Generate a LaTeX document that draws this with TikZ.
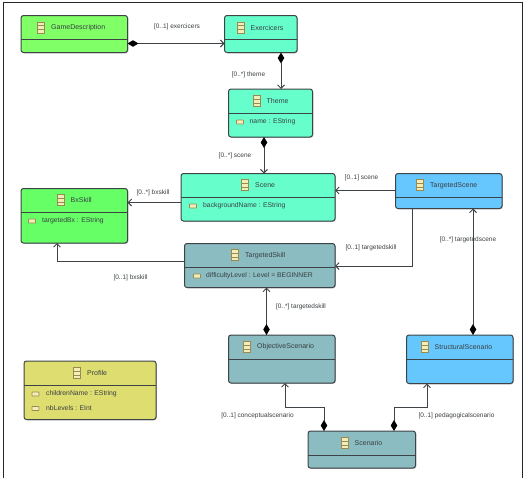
\documentclass[tikz,border=0pt]{standalone}
\usepackage{fontspec}
\setmainfont{Liberation Sans}
\usetikzlibrary{arrows.meta,shadows,calc}
\definecolor{lineC}{HTML}{3E4347}
\definecolor{txtC}{HTML}{3A3F42}
\definecolor{gameC}{HTML}{80FF66}
\definecolor{aquaC}{HTML}{66FFCC}
\definecolor{skyC}{HTML}{66C7FF}
\definecolor{tealC}{HTML}{8ABCC1}
\definecolor{greenC}{HTML}{66FF66}
\definecolor{yelC}{HTML}{DDDD70}
\definecolor{iconF}{HTML}{F3EDB8}
\definecolor{iconD}{HTML}{9A8A52}
\tikzset{
  classbox/.style={draw=lineC,line width=1pt,rounded corners=2.5pt,inner sep=0pt,outer sep=0pt,anchor=north west,
    drop shadow={shadow xshift=0.8pt,shadow yshift=-0.8pt,opacity=.25,fill=black}},
  divider/.style={draw=lineC,line width=1pt},
  titletext/.style={font=\fontsize{7pt}{8pt}\selectfont,text=txtC,anchor=west,inner sep=0pt},
  attrtext/.style={font=\fontsize{6.8pt}{8pt}\selectfont,text=txtC,anchor=west,inner sep=0pt},
  linktext/.style={font=\fontsize{6.5pt}{8pt}\selectfont,text=txtC,anchor=center,inner sep=0pt},
  frameline/.style={draw=black!85,line width=1pt},
  assoc/.style={draw=lineC,line width=1pt,-{Straight Barb[length=3.5pt,width=7pt,line width=.9pt]}},
  comp/.style={assoc,{Diamond[length=11pt,width=6.5pt,fill=black,color=black]}-{Straight Barb[length=3.5pt,width=7pt,line width=.9pt]}},
  x=1pt,y=-1pt
}
% icon of a class, centred at (#1,#2)
\newcommand{\classicon}[2]{%
  \draw[iconD,fill=iconF,line width=.7pt] (#1-3.5,#2-5.5) rectangle (#1+3.5,#2+5.5);
  \draw[iconD,line width=.6pt] (#1-3.5,#2-2) -- (#1+3.5,#2-2) (#1-3.5,#2+2) -- (#1+3.5,#2+2);
}
% icon of an attribute, centred at (#1,#2)
\newcommand{\attricon}[2]{%
  \draw[iconD,fill=iconF,line width=.7pt,rounded corners=.5pt] (#1-3.5,#2-2) rectangle (#1+3.5,#2+2);
}
% id, colour, x1, y1, x2, y2, divider y, title, title x
\newcommand{\umlclass}[9]{%
  \pgfmathsetmacro{\bw}{#5-#3}\pgfmathsetmacro{\bh}{#6-#4}\pgfmathsetmacro{\ty}{(#4+#7)/2}
  \node[classbox,fill=#2,minimum width=\bw pt,minimum height=\bh pt] (#1) at (#3,#4) {};
  \draw[divider] (#1.west |- 0,#7) -- (#1.east |- 0,#7);
  \pgfmathsetmacro{\ix}{#9-10}
  \classicon{\ix}{\ty}
  \node[titletext] (#1-title) at (#9,\ty) {#8};
}
\begin{document}
\begin{tikzpicture}
\useasboundingbox (0,0) rectangle (526,480);
\draw[frameline] (3.5,478) -- (3.5,2.5) -- (522.5,2.5) -- (522.5,478);

\umlclass{game}{gameC}{21}{15.5}{127.5}{52.5}{39.5}{GameDescription}{51}
\umlclass{exer}{aquaC}{224.5}{15.5}{297}{52.5}{39.5}{Exercicers}{250.5}
\umlclass{theme}{aquaC}{228.5}{89}{312.5}{137}{113}{Theme}{266.5}
\umlclass{scene}{aquaC}{181}{173.5}{335}{221}{197}{Scene}{255}
\umlclass{tscene}{skyC}{395.5}{173.5}{502}{208.5}{197}{TargetedScene}{430}
\umlclass{bx}{greenC}{21}{188.5}{127.5}{243}{212}{BxSkill}{70.5}
\umlclass{tskill}{tealC}{184.5}{243.5}{335}{287.5}{267}{TargetedSkill}{245}
\umlclass{obj}{tealC}{228.5}{335}{335}{383}{359}{ObjectiveScenario}{257}
\umlclass{struct}{skyC}{406.5}{335}{513}{383.5}{359}{StructuralScenario}{434.5}
\umlclass{scen}{tealC}{308}{431}{415.5}{468}{455}{Scenario}{354.5}
\umlclass{prof}{yelC}{24}{361}{156}{419.5}{385}{Profile}{87}

\attricon{240}{122}
\node[attrtext] (a1) at (249.5,122) {name : EString};
\attricon{193}{206}
\node[attrtext] (a2) at (203,206) {backgroundName : EString};
\attricon{32}{221}
\node[attrtext] (a3) at (42,221) {targetedBx : EString};
\attricon{197}{276}
\node[attrtext] (a4) at (206,276) {difficultyLevel : Level = BEGINNER};
\attricon{35.5}{394}
\node[attrtext] (a5) at (46,394) {childrenName : EString};
\attricon{35.5}{408.5}
\node[attrtext] (a6) at (46,408.5) {nbLevels : EInt};

\draw[comp] (game.east |- 0,43.5) -- (exer.west |- 0,43.5);
\draw[comp] (exer.south -| 281,0) -- (theme.north -| 281,0);
\draw[comp] (theme.south -| 264,0) -- (scene.north -| 264,0);
\draw[assoc] (scene.west |- 0,202.5) -- (bx.east |- 0,202.5);
\draw[assoc] (tscene.west |- 0,190.5) -- (scene.east |- 0,190.5);
\draw[assoc] (tskill.west |- 0,261.5) -| (bx.south -| 57,0);
\draw[assoc] (tscene.south -| 412,0) |- (tskill.east |- 0,266);
\draw[comp] (struct.north -| 473,0) -- (tscene.south -| 473,0);
\draw[comp] (obj.north -| 266.5,0) -- (tskill.south -| 266.5,0);
\draw[comp] (scen.north -| 324,0) -- (324,407) -- (285,407) -- (obj.south -| 285,0);
\draw[comp] (scen.north -| 394,0) -- (394,407) -- (427,407) -- (struct.south -| 427,0);

\node[linktext] (l1) at (177,27) {[0..1] exercicers};
\node[linktext] (l2) at (248.5,75) {[0..*] theme};
\node[linktext] (l3) at (235,156) {[0..*] scene};
\node[linktext] (l4) at (153,193) {[0..*] bxskill};
\node[linktext] (l5) at (361.5,178) {[0..1] scene};
\node[linktext] (l6) at (371,248) {[0..1] targetedskill};
\node[linktext] (l7) at (130.5,278) {[0..1] bxskill};
\node[linktext] (l8) at (468,240) {[0..*] targetedscene};
\node[linktext] (l9) at (301,307) {[0..*] targetedskill};
\node[linktext] (l10) at (257.5,416) {[0..1] conceptualscenario};
\node[linktext] (l11) at (456.5,416) {[0..1] pedagogicalscenario};
\end{tikzpicture}
\end{document}
